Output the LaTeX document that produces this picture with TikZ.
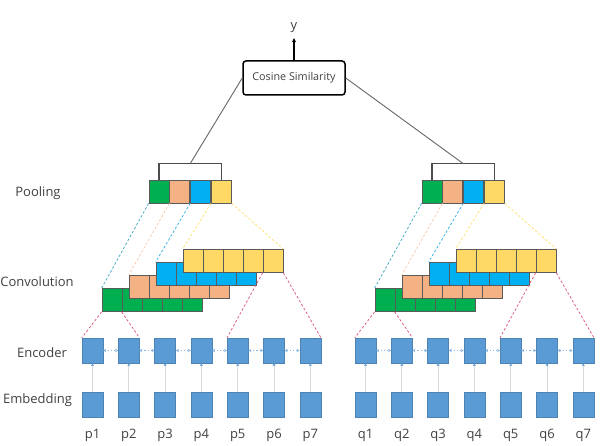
\documentclass[tikz,border=0pt]{standalone}
\usepackage{fontspec}
\setmainfont{Open Sans}
\usepackage{tikz}
\usetikzlibrary{positioning,arrows.meta}

\definecolor{cgreen}{HTML}{00B050}
\definecolor{corange}{HTML}{F4B183}
\definecolor{cblue}{HTML}{00B0F0}
\definecolor{cyellow}{HTML}{FFD966}
\definecolor{encblue}{HTML}{5B9BD5}
\definecolor{arrowblue}{HTML}{8DB8E2}
\definecolor{boxline}{HTML}{5A5A5A}
\definecolor{gteal}{HTML}{4BACC6}
\definecolor{gpeach}{HTML}{F8CBAD}
\definecolor{gcyan}{HTML}{41B6E6}
\definecolor{gyellow}{HTML}{FFE27A}
\definecolor{gred}{HTML}{E0607E}
\definecolor{txt}{HTML}{404040}

\begin{document}
\begin{tikzpicture}[x=1pt,y=-1pt,
    cell/.style={draw=boxline,line width=0.8pt,inner sep=0pt,minimum width=20pt,minimum height=23pt},
    convrow/.style={cell,minimum width=100pt,path picture={
        \foreach \k in {1,...,4}
          \draw[boxline,line width=0.8pt] ([xshift=\k*20pt]path picture bounding box.north west)
            -- ([xshift=\k*20pt]path picture bounding box.south west);}},
    enc/.style={fill=encblue,draw=encblue!85!black,line width=0.4pt,inner sep=0pt,minimum width=21pt,minimum height=25pt},
    lbl/.style={font=\fontsize{13}{15}\selectfont,text=txt,inner sep=1pt},
    cosbox/.style={draw,line width=1.5pt,rounded corners=3pt,minimum width=102pt,minimum height=34pt,text=txt,font=\fontsize{10.8}{12}\selectfont},
    link/.style={draw=black!60,line width=0.9pt},
    bracket/.style={draw=black!70,line width=1.4pt},
    guide/.style={dashed,dash pattern=on 2.5pt off 2pt,line width=0.8pt},
    bi/.style={{Stealth[length=3pt,width=3.5pt]}-{Stealth[length=3pt,width=3.5pt]},draw=arrowblue,dotted,line width=1.1pt},
    up/.style={-{Stealth[length=3pt,width=3pt,color=encblue]},draw=black!15,line width=1pt}]
    \useasboundingbox (0,0) rectangle (600,446);

    % layer names
    \node[lbl] (poolname) at (38,193)   {Pooling};
    \node[lbl] (convname) at (37,282)   {Convolution};
    \node[lbl] (encname)  at (42,353)   {Encoder};
    \node[lbl] (embname)  at (37.5,400) {Embedding};

    \foreach \s/\dx in {p/0,q/273}{
    \begin{scope}[xshift=\dx pt]
    % pooling cells
    \node[cell,fill=cgreen]  (pool\s1) at (159,191.5) {};
    \node[cell,fill=corange] (pool\s2) [right=0pt of pool\s1] {};
    \node[cell,fill=cblue]   (pool\s3) [right=0pt of pool\s2] {};
    \node[cell,fill=cyellow] (pool\s4) [right=0pt of pool\s3] {};
    \draw[bracket] (pool\s1.north) -- ++(0,-16) -| coordinate[pos=0.25] (top\s) (pool\s4.north);

    % convolution rows, back to front
    \node[convrow,fill=cgreen]  (conv\s1) at (152,300) {};
    \node[convrow,fill=corange] (conv\s2) at (179,287) {};
    \node[convrow,fill=cblue]   (conv\s3) at (206,274) {};
    \node[convrow,fill=cyellow] (conv\s4) at (233,261) {};

    % encoder, embedding and words
    \foreach \i in {1,...,7}{
      \node[enc] (enc\s\i) at ({92.5+36.3*(\i-1)},350.5) {};
      \node[enc] (emb\s\i) at ({92.5+36.3*(\i-1)},405) {};
      \node[lbl] (word\s\i) at ({92.5+36.3*(\i-1)},435) {\s\i};
      \draw[up] (emb\s\i) -- (enc\s\i);
    }
    \foreach \i [evaluate=\i as \j using int(\i+1)] in {1,...,6}
      \draw[bi] (enc\s\i) -- (enc\s\j);

    % pooling to convolution
    \draw[guide,draw=gteal]   (pool\s1.south west) -- (conv\s1.north west);
    \draw[guide,draw=gpeach]  (pool\s2.south west) -- (conv\s2.north west);
    \draw[guide,draw=gcyan]   (pool\s3.south west) -- (conv\s3.north west);
    \draw[guide,draw=gyellow] (pool\s4.south west) -- (conv\s4.north west);
    \draw[guide,draw=gyellow] (pool\s4.south east) -- (conv\s4.north east);
    % convolution windows
    \draw[guide,draw=gred] (conv\s1.south west) -- (enc\s1.north west);
    \draw[guide,draw=gred] ([xshift=20pt]conv\s1.south west) -- (enc\s2.north east);
    \draw[guide,draw=gred] ([xshift=80pt]conv\s4.south west) -- (enc\s5.north west);
    \draw[guide,draw=gred] (conv\s4.south east) -- (enc\s7.north east);
    \end{scope}
    }

    % similarity on top
    \node[cosbox] (cos) at (294,78) {Cosine Similarity};
    \node[lbl] (out) at (294,28) {y};
    \draw[-{Stealth[length=4pt,width=4pt]},line width=1.3pt,shorten >=4pt] (cos) -- (out);
    \draw[link] (cos.west) -- (topp);
    \draw[link] (cos.east) -- (topq);
\end{tikzpicture}
\end{document}
